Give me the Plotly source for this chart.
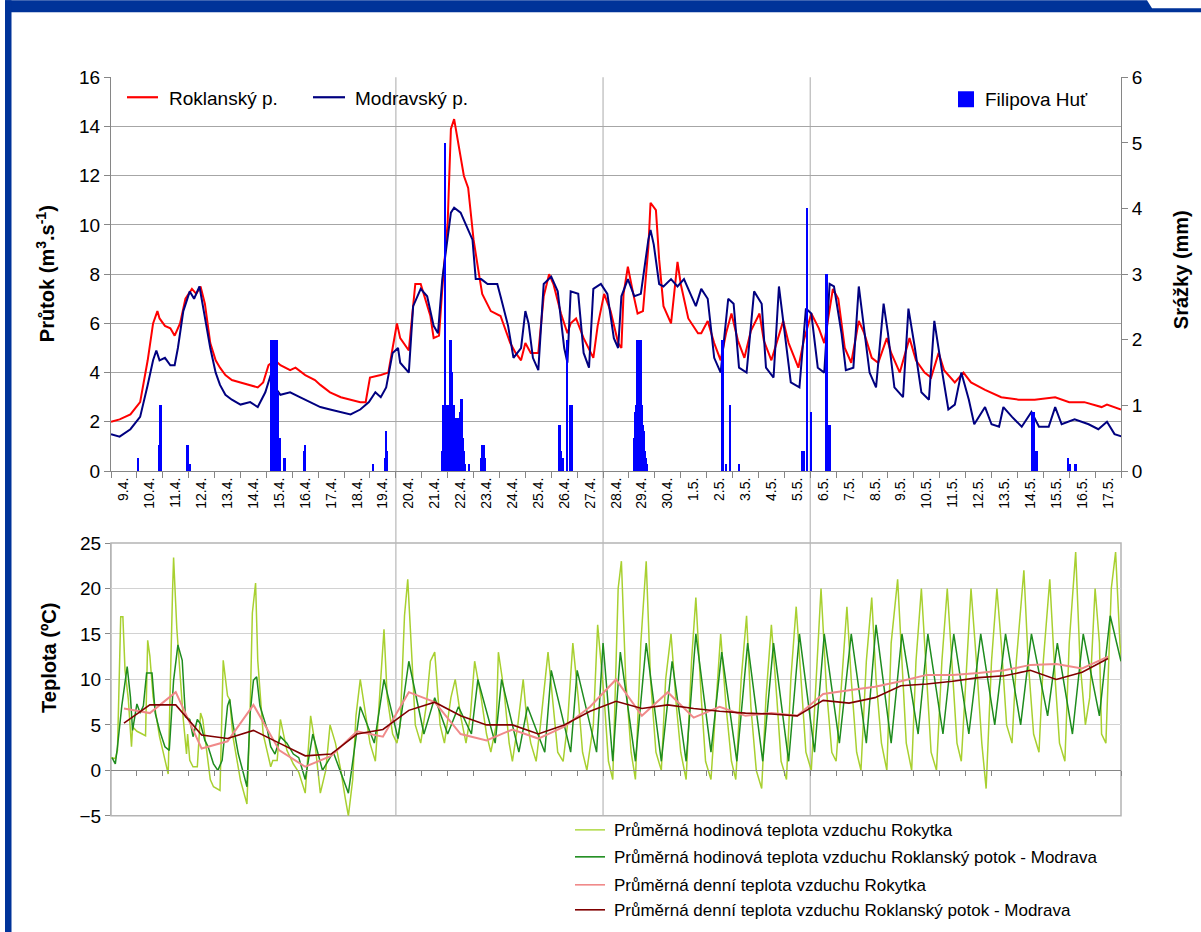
import plotly.graph_objects as go

W, H = 1201, 932
# vertical placement of the page layout inside the rendered frame
Y_OFF, Y_SCALE = 9.7, 0.978
FONT = "Liberation Sans, Arial, sans-serif"

# ---- time axis: one category per day, hours counted from 9.4. 00:00 ----
day_labels = ["9.4.", "10.4.", "11.4.", "12.4.", "13.4.", "14.4.", "15.4.", "16.4.",
              "17.4.", "18.4.", "19.4.", "20.4.", "21.4.", "22.4.", "23.4.", "24.4.",
              "25.4.", "26.4.", "27.4.", "28.4.", "29.4.", "30.4.", "1.5.", "2.5.",
              "3.5.", "4.5.", "5.5.", "6.5.", "7.5.", "8.5.", "9.5.", "10.5.", "11.5.",
              "12.5.", "13.5.", "14.5.", "15.5.", "16.5.", "17.5."]
week_starts = ["20.4.", "28.4.", "6.5."]

# ---- discharge (m3/s): (hour, value) ----
roklansky = [
    (0, 2.0), (8, 2.1), (18, 2.3), (27, 2.8), (34, 4.5), (39, 6.0), (43, 6.5), (45, 6.2),
    (50, 5.9), (55, 5.8), (59, 5.5), (64, 6.0), (69, 7.0), (75, 7.4), (79, 7.2), (83, 7.5),
    (87, 6.8), (92, 5.2), (97, 4.5), (101, 4.2), (106, 3.9), (112, 3.7), (120, 3.6),
    (129, 3.5), (136, 3.4), (141, 3.6), (146, 4.3), (152, 4.5), (157, 4.3), (166, 4.1),
    (171, 4.2), (180, 3.9), (189, 3.7), (194, 3.5), (203, 3.2), (213, 3.0), (222, 2.9),
    (231, 2.8), (236, 2.8), (240, 3.8), (250, 3.9), (257, 4.0), (261, 5.0), (265, 6.0),
    (268, 5.4), (276, 4.9), (282, 7.6), (287, 7.6), (296, 6.3), (299, 5.4), (304, 5.5),
    (307, 7.4), (312, 10.1), (315, 13.9), (318, 14.3), (322, 13.2), (327, 12.0),
    (331, 11.5), (336, 9.4), (341, 8.0), (344, 7.2), (352, 6.5), (361, 6.3), (370, 5.2),
    (375, 4.8), (380, 4.5), (384, 5.2), (389, 4.8), (396, 4.8), (401, 7.1), (406, 8.0),
    (410, 7.6), (417, 6.4), (423, 5.6), (426, 6.0), (431, 6.2), (438, 5.4), (447, 4.6),
    (451, 5.9), (457, 7.2), (463, 6.5), (470, 5.2), (473, 5.0), (475, 7.2), (479, 8.3),
    (484, 7.2), (488, 6.4), (493, 6.5), (498, 9.1), (500, 10.9), (505, 10.6), (508, 8.6),
    (512, 6.7), (519, 6.0), (525, 8.5), (528, 7.6), (535, 6.2), (544, 5.6), (547, 5.6),
    (553, 6.1), (559, 5.2), (565, 4.5), (570, 5.6), (575, 6.4), (581, 5.3), (587, 4.6),
    (593, 5.7), (601, 6.4), (605, 5.3), (612, 4.5), (618, 5.4), (623, 6.1), (628, 5.2),
    (637, 4.2), (642, 5.3), (649, 6.4), (656, 5.8), (661, 5.2), (669, 7.4), (674, 7.0),
    (680, 5.0), (686, 4.4), (693, 6.1), (698, 5.6), (705, 4.6), (711, 4.4), (719, 5.4),
    (723, 4.8), (731, 4.0), (740, 5.4), (746, 4.5), (754, 4.0), (760, 3.8), (767, 4.8),
    (772, 4.1), (782, 3.6), (790, 4.0), (797, 3.6), (810, 3.3), (825, 3.0), (841, 2.9),
    (856, 2.9), (875, 3.0), (888, 2.8), (902, 2.8), (918, 2.6), (923, 2.7), (936, 2.5),
]
modravsky = [
    (0, 1.5), (8, 1.4), (18, 1.7), (27, 2.2), (34, 3.5), (39, 4.5), (42, 4.9), (45, 4.5),
    (50, 4.6), (55, 4.3), (59, 4.3), (62, 5.0), (67, 6.5), (73, 7.3), (77, 7.0), (82, 7.5),
    (86, 6.5), (92, 5.0), (97, 4.0), (101, 3.5), (106, 3.1), (112, 2.9), (120, 2.7),
    (129, 2.8), (136, 2.6), (143, 3.2), (148, 3.9), (152, 3.4), (157, 3.1), (166, 3.2),
    (175, 3.0), (185, 2.8), (194, 2.6), (203, 2.5), (213, 2.4), (222, 2.3), (231, 2.5),
    (239, 2.8), (245, 3.2), (250, 3.0), (255, 3.4), (261, 4.8), (266, 5.0), (268, 4.4),
    (276, 4.0), (280, 6.7), (287, 7.4), (293, 7.1), (299, 5.9), (303, 5.6), (307, 7.8),
    (312, 9.4), (315, 10.5), (318, 10.7), (324, 10.5), (331, 9.8), (335, 9.4), (338, 7.8),
    (343, 7.8), (349, 7.6), (358, 7.6), (361, 7.1), (368, 5.9), (373, 4.6), (380, 5.0),
    (384, 6.5), (387, 6.0), (391, 4.6), (396, 4.1), (401, 7.6), (408, 7.9), (414, 7.3),
    (420, 5.0), (423, 4.4), (426, 7.3), (433, 7.2), (438, 4.8), (443, 4.2), (447, 7.4),
    (454, 7.6), (460, 7.2), (466, 5.4), (470, 5.0), (473, 7.1), (479, 7.8), (485, 7.1),
    (491, 7.2), (498, 9.4), (500, 9.8), (503, 9.2), (508, 7.6), (512, 7.5), (519, 7.8),
    (525, 7.5), (531, 7.8), (538, 7.1), (542, 6.7), (547, 7.4), (553, 7.0), (559, 4.6),
    (565, 4.0), (572, 7.0), (577, 6.8), (582, 4.2), (589, 4.0), (596, 7.3), (603, 6.8),
    (607, 4.2), (614, 3.8), (619, 7.5), (624, 5.7), (630, 3.6), (638, 3.4), (644, 6.6),
    (649, 6.4), (655, 4.2), (661, 4.0), (666, 7.6), (670, 7.5), (677, 5.6), (681, 4.1),
    (688, 4.2), (693, 7.5), (698, 5.7), (703, 4.0), (709, 3.4), (716, 6.8), (720, 5.6),
    (726, 3.4), (734, 3.0), (739, 6.6), (745, 5.0), (751, 3.2), (758, 2.9), (763, 6.1),
    (770, 4.1), (776, 2.5), (782, 2.7), (788, 4.0), (795, 2.9), (800, 1.9), (810, 2.6),
    (816, 1.9), (823, 1.8), (827, 2.6), (835, 2.2), (844, 1.8), (853, 2.4), (860, 1.8),
    (869, 1.8), (875, 2.6), (881, 1.9), (893, 2.1), (906, 1.9), (915, 1.7), (923, 2.0),
    (930, 1.5), (937, 1.4),
]

# ---- hourly precipitation Filipova Huť (mm): (hour, value) ----
filipova_hut = [
    (25, 0.2), (45, 0.4), (46, 1.0), (71, 0.4), (73, 0.1),
    (149, 2.0), (150, 2.0), (151, 2.0), (152, 2.0), (153, 1.9), (154, 2.0), (155, 1.2),
    (157, 0.5), (161, 0.2), (179, 0.3), (180, 0.4), (243, 0.1), (254, 0.2), (255, 0.6),
    (256, 0.3), (307, 0.3), (308, 1.0), (309, 1.0), (310, 5.0), (311, 1.0), (312, 0.7),
    (313, 1.0), (314, 0.8), (315, 2.0), (316, 1.5), (317, 0.8), (318, 1.0), (319, 0.8),
    (320, 0.6), (321, 0.8), (322, 0.5), (323, 0.8), (324, 0.9), (325, 1.1), (326, 0.5),
    (327, 0.3), (328, 0.1), (332, 0.1), (343, 0.2), (344, 0.4), (345, 0.4), (346, 0.4),
    (347, 0.2), (416, 0.7), (417, 0.3), (419, 0.2), (423, 2.0), (426, 1.0), (427, 1.0),
    (485, 0.5), (486, 0.9), (487, 1.0), (488, 2.0), (489, 0.8), (490, 1.0), (491, 2.0),
    (492, 1.0), (493, 0.7), (494, 0.6), (495, 0.3), (496, 0.2), (497, 0.1),
    (567, 2.0), (570, 0.1), (574, 1.0), (582, 0.1), (641, 0.3), (642, 0.3), (645, 4.0),
    (649, 0.9), (663, 3.0), (664, 3.0), (665, 0.7), (666, 0.7), (854, 0.9), (855, 0.9),
    (858, 0.3), (887, 0.2), (889, 0.1), (894, 0.1),
]

# ---- hourly air temperature (°C): (hour, value) ----
rokytka_hourly = [
    (0, 1.4), (4, 1.3), (6, 2.2), (9, 16.9), (11, 16.9), (13, 11.0), (16, 7.9), (19, 2.6),
    (20, 4.8), (24, 4.3), (29, 4.0), (32, 3.8), (34, 14.3), (36, 12.6), (39, 8.1), (43, 5.1),
    (45, 3.7), (48, 2.2), (52, 0.0), (53, -0.4), (57, 19.5), (58, 23.4), (61, 15.6),
    (64, 10.3), (67, 5.6), (70, 1.8), (71, 4.0), (73, 1.1), (76, 0.4), (80, 0.4), (83, 6.3),
    (85, 5.6), (89, 1.9), (92, -1.0), (95, -1.8), (101, -2.2), (104, 12.1), (108, 8.2),
    (110, 7.8), (113, 3.7), (120, -1.1), (124, -3.0), (126, -3.7), (129, 7.0), (131, 17.3),
    (134, 20.6), (136, 12.1), (141, 4.0), (145, 1.8), (148, 0.4), (150, 1.1), (154, 1.1),
    (157, 5.6), (160, 3.7), (163, 2.2), (169, 0.7), (174, -0.2), (180, -2.5), (185, 6.0),
    (189, 3.0), (194, -2.5), (199, 0.0), (203, 5.0), (208, 3.0), (213, 0.0), (217, -3.0),
    (220, -5.0), (224, -1.0), (227, 6.0), (231, 10.0), (236, 6.0), (240, 3.0), (245, 1.0),
    (250, 10.0), (253, 15.5), (256, 8.0), (261, 4.0), (265, 3.0), (268, 5.0), (272, 17.0),
    (275, 21.0), (279, 12.0), (282, 5.0), (287, 3.0), (292, 7.0), (296, 12.0), (300, 13.0),
    (305, 5.0), (309, 3.0), (315, 8.0), (319, 10.0), (324, 6.0), (329, 3.0), (333, 6.0),
    (337, 12.0), (343, 8.0), (348, 4.0), (352, 2.0), (357, 5.0), (359, 13.0), (364, 9.0),
    (369, 3.0), (372, 1.0), (377, 5.0), (382, 10.0), (385, 6.0), (389, 3.0), (394, 1.0),
    (398, 5.0), (405, 13.0), (409, 8.0), (414, 2.0), (419, 1.0), (423, 5.0), (428, 14.0),
    (433, 8.0), (437, 2.0), (441, 0.0), (447, 5.0), (451, 16.0), (457, 8.0), (461, 1.0),
    (465, -1.0), (470, 20.0), (473, 23.0), (477, 10.0), (482, 2.0), (486, -1.0),
    (491, 14.0), (496, 23.0), (500, 10.0), (505, 2.0), (510, 0.0), (514, 10.0), (519, 15.0),
    (524, 7.0), (528, 2.0), (533, -1.0), (538, 12.0), (542, 19.0), (547, 8.0), (551, 1.0),
    (556, -1.0), (561, 8.0), (565, 15.0), (570, 7.0), (575, 1.0), (579, -1.0), (584, 10.0),
    (589, 17.0), (593, 7.0), (598, 0.0), (603, -2.0), (607, 8.0), (612, 16.0), (617, 8.0),
    (621, 1.0), (626, -1.0), (630, 10.0), (635, 18.0), (640, 9.0), (644, 2.0), (649, 0.0),
    (654, 12.0), (658, 20.0), (663, 9.0), (668, 2.0), (672, 1.0), (677, 10.0), (682, 18.0),
    (686, 10.0), (691, 2.0), (695, 0.0), (700, 12.0), (705, 19.0), (709, 10.0), (714, 3.0),
    (719, 0.0), (723, 14.0), (729, 21.0), (733, 12.0), (737, 3.0), (742, 0.0), (746, 12.0),
    (751, 20.0), (756, 10.0), (760, 2.0), (765, 0.0), (770, 12.0), (775, 20.0), (779, 12.0),
    (784, 3.0), (788, 1.0), (793, 12.0), (797, 20.0), (802, 12.0), (807, 3.0), (811, -2.0),
    (816, 12.0), (821, 20.0), (825, 14.0), (830, 5.0), (835, 3.0), (839, 12.0), (846, 22.0),
    (850, 12.0), (855, 4.0), (860, 2.0), (864, 12.0), (870, 21.0), (875, 10.0), (879, 3.0),
    (884, 1.0), (888, 14.0), (894, 24.0), (898, 12.0), (903, 5.0), (907, 8.0), (912, 20.0),
    (916, 14.0), (918, 4.0), (922, 3.0), (927, 20.0), (931, 24.0), (935, 14.0), (938, 10.0),
]
modrava_hourly = [
    (1, 1.4), (4, 0.7), (6, 2.6), (10, 7.1), (15, 11.4), (18, 8.1), (20, 4.4), (24, 7.3),
    (27, 6.3), (30, 7.1), (33, 10.7), (38, 10.7), (41, 6.3), (45, 4.4), (50, 2.6), (54, 2.2),
    (58, 9.9), (62, 13.8), (66, 12.1), (69, 5.9), (73, 5.6), (76, 3.7), (80, 5.6), (83, 5.1),
    (87, 3.3), (90, 2.6), (95, 0.7), (99, 0.0), (103, 1.1), (108, 7.1), (110, 7.8),
    (113, 5.1), (118, 1.8), (123, -0.4), (126, -1.8), (129, 6.3), (132, 9.9), (135, 10.3),
    (138, 7.1), (145, 4.4), (148, 2.6), (152, 1.8), (157, 3.7), (163, 3.0), (169, 1.8),
    (174, 1.4), (180, -1.0), (187, 4.0), (196, 0.0), (206, 2.0), (220, -2.5), (231, 7.0),
    (244, 3.0), (253, 10.0), (266, 3.5), (276, 12.0), (290, 4.0), (300, 8.0), (312, 4.0),
    (322, 7.0), (334, 4.0), (340, 10.0), (356, 3.0), (362, 10.0), (378, 2.0), (386, 7.0),
    (402, 2.0), (408, 11.0), (426, 2.0), (432, 11.0), (450, 2.0), (456, 14.0), (465, 1.0),
    (472, 13.0), (486, 1.0), (496, 14.0), (510, 1.0), (520, 12.0), (533, 1.0), (542, 15.0),
    (556, 2.0), (566, 13.0), (580, 1.0), (590, 14.0), (604, 1.0), (614, 14.0), (628, 1.0),
    (638, 15.0), (652, 2.0), (661, 15.0), (675, 3.0), (686, 15.0), (700, 3.0), (709, 16.0),
    (723, 3.0), (733, 15.0), (748, 4.0), (757, 15.0), (771, 4.0), (781, 15.0), (795, 4.0),
    (806, 15.0), (819, 5.0), (829, 15.0), (843, 5.0), (853, 15.0), (868, 6.0), (877, 14.0),
    (891, 4.0), (901, 15.0), (916, 6.0), (926, 17.0), (936, 12.0),
]

# ---- daily mean air temperature (°C), one value per day ----
rokytka_daily = [6.8, 6.3, 8.6, 2.4, 3.2, 7.2, 2.2, 0.4, 1.6, 4.3, 3.7, 8.6, 7.5, 4.0,
                 3.3, 4.5, 3.5, 4.8, 7.0, 10.0, 6.0, 8.6, 5.8, 7.0, 6.0, 6.3, 6.0, 8.4,
                 8.8, 9.2, 9.8, 10.5, 10.5, 10.7, 11.0, 11.6, 11.7, 11.2, 12.5]
modrava_daily = [5.2, 7.2, 7.2, 3.9, 3.5, 4.4, 3.0, 1.6, 1.8, 4.0, 4.5, 6.6, 7.5, 6.0,
                 5.0, 5.0, 4.0, 5.0, 6.5, 7.6, 6.8, 7.2, 6.8, 6.5, 6.3, 6.2, 6.0, 7.7,
                 7.4, 8.0, 9.3, 9.5, 9.8, 10.2, 10.4, 11.0, 10.0, 10.8, 12.3]


def to_days(pairs):
    """Split (hour, value) pairs into day-based x and the values."""
    return [h / 24 for h, _ in pairs], [v for _, v in pairs]


def px(x):
    """Page x position (pixels) -> paper coordinate."""
    return x / W


def py(y):
    """Page y position (pixels from top) -> paper coordinate."""
    return 1 - ((y - Y_OFF) / Y_SCALE) / H


day_mid = [i + 0.5 for i in range(len(day_labels))]
n_days = len(day_labels)

fig = go.Figure()

# discharge lines (left axis)
x, y = to_days(roklansky)
fig.add_trace(go.Scatter(x=x, y=y, mode="lines", line=dict(color="#ff0000", width=2),
                         xaxis="x", yaxis="y", name="Roklanský p."))
x, y = to_days(modravsky)
fig.add_trace(go.Scatter(x=x, y=y, mode="lines", line=dict(color="#000080", width=2),
                         xaxis="x", yaxis="y", name="Modravský p."))
# precipitation bars (right axis)
x, y = to_days(filipova_hut)
fig.add_trace(go.Bar(x=x, y=y, width=1.7 / 24, marker=dict(color="#0000ff", line_width=0),
                     xaxis="x", yaxis="y2", name="Filipova Huť"))

# temperature
x, y = to_days(rokytka_hourly)
fig.add_trace(go.Scatter(x=x, y=y, mode="lines", line=dict(color="#a8d030", width=1.5),
                         xaxis="x2", yaxis="y3"))
x, y = to_days(modrava_hourly)
fig.add_trace(go.Scatter(x=x, y=y, mode="lines", line=dict(color="#1e8c1e", width=1.5),
                         xaxis="x2", yaxis="y3"))
fig.add_trace(go.Scatter(x=day_mid, y=rokytka_daily, mode="lines",
                         line=dict(color="#f08a8a", width=2), xaxis="x2", yaxis="y3"))
fig.add_trace(go.Scatter(x=day_mid, y=modrava_daily, mode="lines",
                         line=dict(color="#800000", width=1.6), xaxis="x2", yaxis="y3"))

axis_grey = "#868686"
tick_font = dict(family=FONT, size=19, color="black")
x_dom = [px(111), px(1121)]

fig.update_layout(
    width=W, height=H, margin=dict(l=0, r=0, t=0, b=0),
    paper_bgcolor="white", plot_bgcolor="rgba(0,0,0,0)", showlegend=False,
    bargap=0, font=dict(family=FONT, color="black"),
    xaxis=dict(domain=x_dom, range=[0, n_days], anchor="y",
               tickmode="array", tickvals=day_mid, ticktext=day_labels, tickangle=-90,
               ticks="", tickfont=dict(family=FONT, size=14, color="black"),
               showgrid=False, zeroline=False, showline=True, linecolor=axis_grey,
               minor=dict(tickmode="linear", tick0=0, dtick=1, ticks="outside",
                          ticklen=6, tickcolor=axis_grey, showgrid=False)),
    yaxis=dict(domain=[py(471), py(77)], range=[0, 16], dtick=2, anchor="x",
               showgrid=True, gridcolor="#a6a6a6", gridwidth=1, zeroline=False,
               showline=True, linecolor=axis_grey, ticks="outside", ticklen=6,
               tickcolor=axis_grey, tickfont=tick_font),
    yaxis2=dict(overlaying="y", side="right", range=[0, 6], dtick=1, anchor="x",
                showgrid=False, zeroline=False, showline=True, linecolor=axis_grey,
                ticks="outside", ticklen=6, tickcolor=axis_grey, tickfont=tick_font),
    xaxis2=dict(domain=x_dom, range=[0, n_days], anchor="free", position=py(770),
                showticklabels=False, ticks="", showgrid=False, zeroline=False,
                showline=True, linecolor=axis_grey,
                minor=dict(tickmode="linear", tick0=0, dtick=1, ticks="outside",
                           ticklen=5, tickcolor=axis_grey, showgrid=False)),
    yaxis3=dict(domain=[py(816), py(543)], range=[-5, 25], dtick=5, anchor="x2",
                showgrid=True, gridcolor="#d2d2d2", zeroline=False, showline=True,
                linecolor="#b4b4b4", ticks="outside", ticklen=5, tickcolor=axis_grey,
                tickfont=tick_font),
)

shapes = []
# frame of the temperature panel
shapes.append(dict(type="rect", xref="x2 domain", yref="y3 domain", x0=0, x1=1, y0=0, y1=1,
                   line=dict(color="#b4b4b4", width=1.5), layer="below"))
# week separators running through both panels
for lab in week_starts:
    d = day_labels.index(lab)
    shapes.append(dict(type="line", xref="x", yref="paper", x0=d, x1=d,
                       y0=py(816), y1=py(77), line=dict(color="#b8b8b8", width=1.2),
                       layer="below"))

# page decoration: blue header band and left bar
navy_band = "#003399"
shapes.append(dict(type="path", xref="paper", yref="paper",
                   path=f"M {px(5)},{py(0)} L {px(1147)},{py(0)} L {px(1152)},{py(8)} "
                        f"L {px(1201)},{py(8)} L {px(1201)},{py(12)} L {px(5)},{py(12)} Z",
                   fillcolor=navy_band, line=dict(width=0)))
shapes.append(dict(type="rect", xref="paper", yref="paper", x0=px(5), x1=px(11.5),
                   y0=py(940), y1=py(0), fillcolor=navy_band, line=dict(width=0)))

annotations = []
# legend of the discharge panel
top_legend = [("Roklanský p.", "#ff0000", 127, 158, 167),
              ("Modravský p.", "#000080", 313, 345, 353)]
for text, col, l0, l1, tx in top_legend:
    shapes.append(dict(type="line", xref="paper", yref="paper", x0=px(l0), x1=px(l1),
                       y0=py(97), y1=py(97), line=dict(color=col, width=2.2)))
    annotations.append(dict(text=text, x=px(tx), y=py(98), xref="paper", yref="paper",
                            xanchor="left", yanchor="middle", showarrow=False,
                            font=dict(family=FONT, size=19, color="black")))
shapes.append(dict(type="rect", xref="paper", yref="paper", x0=px(958), x1=px(974),
                   y0=py(107), y1=py(91), fillcolor="#0000ff", line=dict(width=0)))
annotations.append(dict(text="Filipova Huť", x=px(983), y=py(99), xref="paper",
                        yref="paper", xanchor="left", yanchor="middle", showarrow=False,
                        font=dict(family=FONT, size=19, color="black")))

# legend of the temperature panel
bottom_legend = [("Průměrná hodinová teplota vzduchu Rokytka", "#b4dc50", 830),
                 ("Průměrná hodinová teplota vzduchu Roklanský potok - Modrava", "#1e8c1e", 857),
                 ("Průměrná denní teplota vzduchu Rokytka", "#f08a8a", 885),
                 ("Průměrná denní teplota vzduchu Roklanský potok - Modrava", "#800000", 910)]
for text, col, yy in bottom_legend:
    shapes.append(dict(type="line", xref="paper", yref="paper", x0=px(575), x1=px(605),
                       y0=py(yy), y1=py(yy), line=dict(color=col, width=1.6)))
    annotations.append(dict(text=text, x=px(612), y=py(yy + 1), xref="paper", yref="paper",
                            xanchor="left", yanchor="middle", showarrow=False,
                            font=dict(family=FONT, size=17, color="black")))

# axis titles
title_font = dict(family=FONT, size=20, color="black")
annotations.append(dict(text="<b>Průtok (m<sup>3</sup>.s<sup>-1</sup>)</b>", x=px(45),
                        y=py(274), xref="paper", yref="paper", textangle=-90,
                        xanchor="center", yanchor="middle", showarrow=False,
                        font=title_font))
annotations.append(dict(text="<b>Srážky (mm)</b>", x=px(1181), y=py(270), xref="paper",
                        yref="paper", textangle=-90, xanchor="center", yanchor="middle",
                        showarrow=False, font=title_font))
annotations.append(dict(text="<b>Teplota (ºC)</b>", x=px(49), y=py(658), xref="paper",
                        yref="paper", textangle=-90, xanchor="center", yanchor="middle",
                        showarrow=False, font=title_font))

fig.update_layout(shapes=shapes, annotations=annotations)
fig.write_html("out.html")
